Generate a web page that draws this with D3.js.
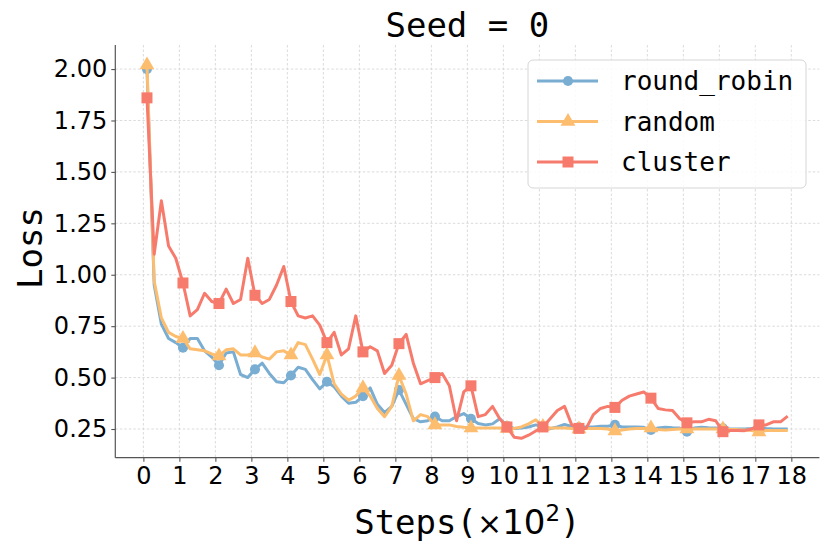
<html>
  <head>
    <title>Seed = 0</title>
    <script src="https://d3js.org/d3.v7.min.js"></script>
    <style>
      body{ margin: 0; background: #fff; }
      text{ fill: #000; }
    </style>
  </head>
  <body>
    <svg width="830" height="554"></svg>
    <script>
    // steps in units of 100, loss every 20 steps
    var steps = [0.1, 0.3, 0.5, 0.7, 0.9, 1.1, 1.3, 1.5, 1.7, 1.9,
      2.1, 2.3, 2.5, 2.7, 2.9, 3.1, 3.3, 3.5, 3.7, 3.9,
      4.1, 4.3, 4.5, 4.7, 4.9, 5.1, 5.3, 5.5, 5.7, 5.9,
      6.1, 6.3, 6.5, 6.7, 6.9, 7.1, 7.3, 7.5, 7.7, 7.9,
      8.1, 8.3, 8.5, 8.7, 8.9, 9.1, 9.3, 9.5, 9.7, 9.9,
      10.1, 10.3, 10.5, 10.7, 10.9, 11.1, 11.3, 11.5, 11.7, 11.9,
      12.1, 12.3, 12.5, 12.7, 12.9, 13.1, 13.3, 13.5, 13.7, 13.9,
      14.1, 14.3, 14.5, 14.7, 14.9, 15.1, 15.3, 15.5, 15.7, 15.9,
      16.1, 16.3, 16.5, 16.7, 16.9, 17.1, 17.3, 17.5, 17.7, 17.9];

    var round_robin = [2.00, 0.95, 0.76, 0.69, 0.67, 0.645, 0.69, 0.69, 0.63, 0.60,
      0.56, 0.62, 0.625, 0.515, 0.50, 0.54, 0.57, 0.52, 0.48, 0.475,
      0.51, 0.55, 0.54, 0.49, 0.445, 0.48, 0.455, 0.41, 0.375, 0.38,
      0.41, 0.45, 0.37, 0.33, 0.36, 0.44, 0.37, 0.30, 0.285, 0.29,
      0.31, 0.29, 0.29, 0.31, 0.325, 0.30, 0.277, 0.27, 0.275, 0.30,
      0.265, 0.253, 0.255, 0.26, 0.27, 0.262, 0.252, 0.26, 0.272, 0.262,
      0.258, 0.26, 0.26, 0.263, 0.263, 0.27, 0.26, 0.26, 0.26, 0.258,
      0.245, 0.255, 0.258, 0.256, 0.255, 0.237, 0.255, 0.258, 0.256, 0.255,
      0.253, 0.25, 0.25, 0.25, 0.252, 0.255, 0.252, 0.25, 0.25, 0.25];

    var random = [2.02, 0.97, 0.79, 0.72, 0.70, 0.69, 0.64, 0.635, 0.63, 0.615,
      0.605, 0.635, 0.64, 0.61, 0.61, 0.62, 0.60, 0.59, 0.625, 0.63,
      0.61, 0.67, 0.66, 0.59, 0.515, 0.61, 0.47, 0.42, 0.39, 0.41,
      0.45, 0.41, 0.35, 0.31, 0.36, 0.51, 0.42, 0.29, 0.32, 0.31,
      0.27, 0.27, 0.27, 0.262, 0.258, 0.255, 0.255, 0.255, 0.255, 0.255,
      0.253, 0.253, 0.26, 0.275, 0.295, 0.262, 0.255, 0.255, 0.255, 0.252,
      0.25, 0.252, 0.253, 0.253, 0.25, 0.24, 0.245, 0.25, 0.252, 0.253,
      0.255, 0.248, 0.245, 0.248, 0.25, 0.25, 0.25, 0.25, 0.25, 0.25,
      0.25, 0.248, 0.247, 0.245, 0.243, 0.235, 0.243, 0.243, 0.243, 0.243];

    var cluster = [1.86, 1.10, 1.36, 1.14, 1.08, 0.96, 0.80, 0.83, 0.91, 0.87,
      0.86, 0.93, 0.86, 0.88, 1.08, 0.90, 0.86, 0.88, 0.95, 1.04,
      0.87, 0.80, 0.79, 0.80, 0.755, 0.67, 0.72, 0.61, 0.64, 0.80,
      0.625, 0.65, 0.63, 0.52, 0.56, 0.665, 0.71, 0.57, 0.47, 0.485,
      0.50, 0.52, 0.46, 0.29, 0.43, 0.46, 0.31, 0.32, 0.36, 0.30,
      0.26, 0.21, 0.205, 0.22, 0.24, 0.26, 0.30, 0.34, 0.36, 0.27,
      0.253, 0.253, 0.32, 0.35, 0.36, 0.355, 0.39, 0.41, 0.42, 0.43,
      0.40, 0.35, 0.343, 0.34, 0.30, 0.28, 0.285, 0.285, 0.297, 0.29,
      0.237, 0.243, 0.243, 0.242, 0.25, 0.27, 0.27, 0.285, 0.285, 0.313];

    var x_ticks = d3.range(0, 19);
    var y_ticks = [0.25, 0.50, 0.75, 1.00, 1.25, 1.50, 1.75, 2.00];
    var series_names = ["round_robin", "random", "cluster"];
    var series_colors = ["#7aadd2", "#fdbd6f", "#f77b6c"];
    var series_symbols = [d3.symbolCircle, d3.symbolTriangle, d3.symbolSquare];
    var symbol_sizes = [80, 95, 121];
    var series_values = [round_robin, random, cluster];
    var mark_every = 5;

    var mono = "'DejaVu Sans Mono', monospace";
    var sans = "'DejaVu Sans', sans-serif";

    var svg = d3.select("svg");
    var plot_left = 115.3, plot_top = 45, plot_right = 819.4, plot_bottom = 457.7;

    var x = d3.scaleLinear().domain([-0.78, 18.78]).range([plot_left, plot_right]);
    var y = d3.scaleLinear().domain([0.1105, 2.117]).range([plot_bottom, plot_top]);

    // grid
    var grid = svg.append("g").attr("stroke", "#d2d2d2").attr("stroke-width", 0.8)
      .attr("stroke-dasharray", "2.5,2");
    grid.selectAll(".gx").data(x_ticks).enter().append("line")
      .attr("x1", function(d){ return x(d); }).attr("x2", function(d){ return x(d); })
      .attr("y1", plot_top).attr("y2", plot_bottom);
    grid.selectAll(".gy").data(y_ticks).enter().append("line")
      .attr("y1", function(d){ return y(d); }).attr("y2", function(d){ return y(d); })
      .attr("x1", plot_left).attr("x2", plot_right);

    // axes
    var xaxis = svg.append("g").attr("transform", "translate(0," + plot_bottom + ")")
      .call(d3.axisBottom(x).tickValues(x_ticks).tickFormat(d3.format("d")).tickSizeOuter(0).tickSize(4).tickPadding(5));
    var yaxis = svg.append("g").attr("transform", "translate(" + plot_left + ",0)")
      .call(d3.axisLeft(y).tickValues(y_ticks).tickFormat(d3.format(".2f")).tickSizeOuter(0).tickSize(4).tickPadding(4));
    [xaxis, yaxis].forEach(function(a){
      a.attr("font-size", 24).attr("font-family", sans);
      a.select(".domain").attr("stroke", "#555").attr("stroke-width", 1.2);
      a.selectAll(".tick line").attr("stroke", "#555").attr("stroke-width", 1.1);
      a.selectAll(".tick text").attr("font-family", sans).attr("font-size", 24).attr("fill", "#111");
    });
    xaxis.select(".domain").attr("d", "M" + plot_left + ",0H" + plot_right);
    yaxis.select(".domain").attr("d", "M0," + plot_bottom + "V" + plot_top);

    // lines and markers
    var line = d3.line()
      .x(function(d){ return x(d[0]); })
      .y(function(d){ return y(d[1]); });
    series_values.forEach(function(vals, i){
      var pts = steps.map(function(s, j){ return [s, vals[j]]; });
      svg.append("path").datum(pts)
        .attr("fill", "none").attr("stroke", series_colors[i])
        .attr("stroke-width", 3).attr("stroke-linejoin", "round")
        .attr("d", line);
      svg.append("g").selectAll("path")
        .data(pts.filter(function(d, j){ return j % mark_every === 0; }))
        .enter().append("path")
        .attr("d", d3.symbol().type(series_symbols[i]).size(symbol_sizes[i]))
        .attr("transform", function(d){ return "translate(" + x(d[0]) + "," + y(d[1]) + ")"; })
        .attr("fill", series_colors[i]);
    });

    // title and labels
    svg.append("text").attr("x", (plot_left + plot_right) / 2).attr("y", 37)
      .attr("text-anchor", "middle").attr("font-family", mono).attr("font-size", 34)
      .text("Seed = 0");
    svg.append("text").attr("transform", "translate(42," + y(1.13) + ") rotate(-90)")
      .attr("text-anchor", "middle").attr("font-family", mono).attr("font-size", 34)
      .text("Loss");
    var xl = svg.append("text").attr("x", (plot_left + plot_right) / 2).attr("y", 534)
      .attr("text-anchor", "middle").attr("font-family", mono).attr("font-size", 34);
    xl.append("tspan").text("Steps(");
    xl.append("tspan").attr("font-family", sans).attr("font-size", 30).text("\u00d7");
    xl.append("tspan").attr("font-family", sans).text("10");
    xl.append("tspan").attr("font-family", sans).attr("font-size", 23).attr("dy", -13).text("2");
    xl.append("tspan").attr("dy", 13).text(")");

    // legend
    var lg = svg.append("g").attr("transform", "translate(528,60)");
    lg.append("rect").attr("width", 278).attr("height", 128).attr("rx", 5)
      .attr("fill", "#fff").attr("fill-opacity", 0.85).attr("stroke", "#d6d6d6").attr("stroke-width", 1);
    series_names.forEach(function(name, i){
      var ly = 21 + i * 40.5;
      lg.append("line").attr("x1", 9).attr("x2", 70).attr("y1", ly).attr("y2", ly)
        .attr("stroke", series_colors[i]).attr("stroke-width", 3);
      lg.append("path").attr("d", d3.symbol().type(series_symbols[i]).size(symbol_sizes[i]))
        .attr("transform", "translate(40," + ly + ")").attr("fill", series_colors[i]);
      lg.append("text").attr("x", 93).attr("y", ly).attr("dy", "0.35em")
        .attr("font-family", mono).attr("font-size", 26).text(name);
    });
    </script>
  </body>
</html>
